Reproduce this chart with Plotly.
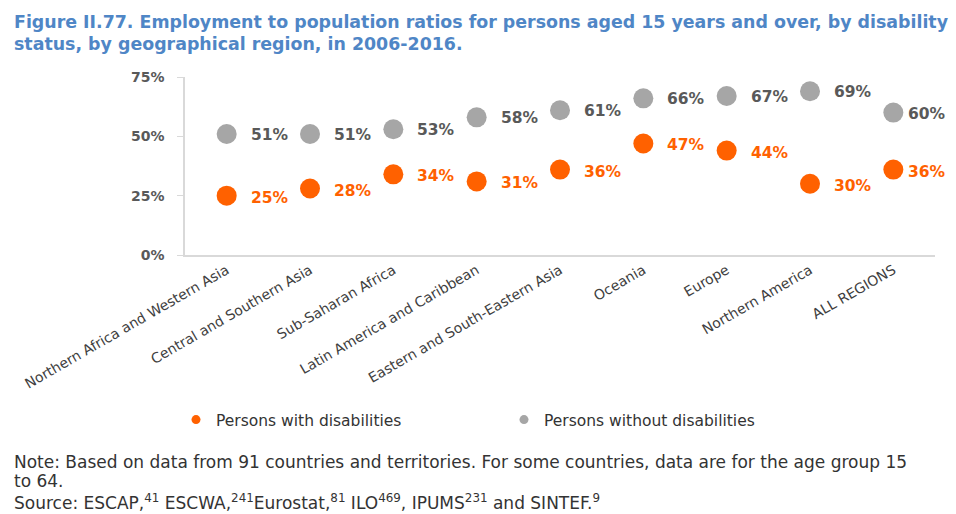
import plotly.graph_objects as go

regions = ["Northern Africa and Western Asia", "Central and Southern Asia", "Sub-Saharan Africa",
           "Latin America and Caribbean", "Eastern and South-Eastern Asia", "Oceania", "Europe",
           "Northern America", "ALL REGIONS"]
with_dis = [25, 28, 34, 31, 36, 47, 44, 30, 36]
without_dis = [51, 51, 53, 58, 61, 66, 67, 69, 60]
ytick_vals = [0, 25, 50, 75]
ytick_text = ["0%", "25%", "50%", "75%"]

ORANGE = "#FF6100"
GREY = "#A6A6A6"
FONT = "DejaVu Sans, Verdana, sans-serif"

fig = go.Figure()
fig.add_trace(go.Scatter(x=regions, y=with_dis, mode="markers", name="Persons with disabilities",
                         marker=dict(color=ORANGE, size=20), showlegend=False))
fig.add_trace(go.Scatter(x=regions, y=without_dis, mode="markers", name="Persons without disabilities",
                         marker=dict(color=GREY, size=20), showlegend=False))
# legend entries with small symbols
fig.add_trace(go.Scatter(x=[None], y=[None], mode="markers", name="Persons with disabilities",
                         marker=dict(color=ORANGE, size=9)))
fig.add_trace(go.Scatter(x=[None], y=[None], mode="markers", name="Persons without disabilities",
                         marker=dict(color=GREY, size=9)))

annotations = []
for i, r in enumerate(regions):
    shift = 22 if i < len(regions) - 1 else 13
    annotations.append(dict(x=r, y=with_dis[i], text=f"<b>{with_dis[i]}%</b>", showarrow=False,
                            xanchor="left", xshift=shift, yshift=-2,
                            font=dict(color=ORANGE, size=15.5, family=FONT)))
    annotations.append(dict(x=r, y=without_dis[i], text=f"<b>{without_dis[i]}%</b>", showarrow=False,
                            xanchor="left", xshift=shift, yshift=-1,
                            font=dict(color="#595959", size=15.5, family=FONT)))

paper_texts = [
    dict(x=12, y=22, text="<b>Figure II.77. Employment to population ratios for persons aged 15 years and over, by disability</b>",
         color="#4F86C6", size=17.4),
    dict(x=12, y=44, text="<b>status, by geographical region, in 2006-2016.</b>", color="#4F86C6", size=17.4),
    dict(x=12, y=462, text="Note: Based on data from 91 countries and territories. For some countries, data are for the age group 15",
         color="#333333", size=17),
    dict(x=12, y=481, text="to 64.", color="#333333", size=17),
    dict(x=12, y=502, text="Source: ESCAP,<sup>41</sup> ESCWA,<sup>241</sup>Eurostat,<sup>81</sup> ILO<sup>469</sup>, IPUMS<sup>231</sup> and SINTEF.<sup>9</sup>",
         color="#333333", size=17),
]
for t in paper_texts:
    annotations.append(dict(xref="paper", yref="paper", x=(t["x"] - 185) / 750, y=1 - (t["y"] - 77) / 178,
                            text=t["text"], showarrow=False, xanchor="left", yanchor="middle",
                            font=dict(color=t["color"], size=t["size"], family=FONT)))

fig.update_layout(
    width=956, height=514,
    margin=dict(l=185, r=21, t=77, b=259),
    paper_bgcolor="white", plot_bgcolor="white",
    font=dict(family=FONT, color="#404040"),
    showlegend=True,
    legend=dict(orientation="h", x=(176 - 185) / 750, y=1 - (420 - 77) / 178, xanchor="left", yanchor="middle",
                font=dict(size=15.5, color="#333333"), itemwidth=30, tracegroupgap=0,
                entrywidthmode="pixels", entrywidth=283),
    annotations=annotations,
    xaxis=dict(range=[-0.5, 8.5], tickangle=-30, showgrid=False, showline=True, linecolor="#D9D9D9",
               linewidth=1.5, ticks="", tickfont=dict(size=14, color="#404040"), fixedrange=True),
    yaxis=dict(range=[0, 75], tickvals=ytick_vals, ticktext=[f"<b>{t}</b>" for t in ytick_text],
               showgrid=False, showline=True, linecolor="#D9D9D9", linewidth=1.5, ticks="outside",
               ticklen=6, tickcolor="#D9D9D9", ticklabelstandoff=10,
               tickfont=dict(size=14, color="#595959"), zeroline=False),
)
fig.write_html("out.html")
